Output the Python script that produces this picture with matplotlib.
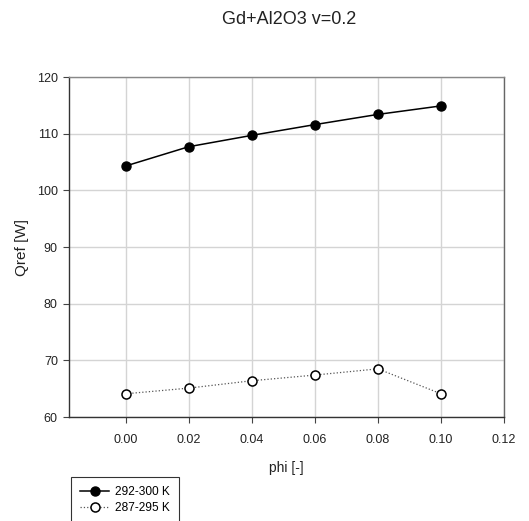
import matplotlib
matplotlib.use("Agg")
import matplotlib.pyplot as plt

plt.rcParams['font.family'] = ['Liberation Sans', 'DejaVu Sans']

# data
phi = [0.00, 0.02, 0.04, 0.06, 0.08, 0.10]
q_292_300 = [104.3, 107.7, 109.7, 111.6, 113.4, 114.9]
q_287_295 = [64.1, 65.1, 66.4, 67.4, 68.5, 64.1]
series_labels = ['292-300 K', '287-295 K']
xticks = [0.00, 0.02, 0.04, 0.06, 0.08, 0.10, 0.12]
yticks = [60, 70, 80, 90, 100, 110, 120]

fig = plt.figure(figsize=(5.29, 5.21), dpi=100)
ax = fig.add_axes([0.1304, 0.1996, 0.8223, 0.6526])

ax.plot(phi, q_292_300, color='black', lw=1.1, marker='o', ms=6.5,
        mfc='black', mec='black', label=series_labels[0], zorder=3)
ax.plot(phi, q_287_295, color='#555555', lw=0.9, ls=':', marker='o', ms=6.5,
        mfc='white', mec='black', mew=1.1, label=series_labels[1], zorder=3)

ax.set_xlim(-0.018, 0.12)
ax.set_ylim(60, 120)
ax.set_xticks(xticks)
ax.set_xticklabels(['%.2f' % t for t in xticks])
ax.set_yticks(yticks)
ax.grid(True, color='#d4d4d4', lw=1.0, zorder=0)
ax.set_axisbelow(True)

ax.tick_params(axis='both', direction='out', length=4, width=0.8,
               colors='#444444', labelsize=9, labelcolor='#222222')
ax.tick_params(axis='x', pad=8)
ax.tick_params(axis='y', pad=4)

ax.spines['left'].set_color('#333333')
ax.spines['bottom'].set_color('#333333')
ax.spines['top'].set_color('#888888')
ax.spines['right'].set_color('#666666')
for s in ax.spines.values():
    s.set_linewidth(1.0)

ax.set_xlabel('phi [-]', fontsize=10, labelpad=11, color='#222222')
ax.set_ylabel('Qref [W]', fontsize=11, labelpad=6, color='#222222')
fig.text(0.5467, 0.963, 'Gd+Al2O3 v=0.2', ha='center', va='center',
         fontsize=13, color='#222222')

leg = fig.legend(loc='upper left', bbox_to_anchor=(0.1335, 0.0852),
                 fontsize=8.6, frameon=True, fancybox=False, handlelength=2.4,
                 labelspacing=0.3, borderpad=0.8, handletextpad=0.5,
                 borderaxespad=0)
leg.get_frame().set_edgecolor('black')
leg.get_frame().set_linewidth(0.8)

fig.savefig('out.png', dpi=100)
